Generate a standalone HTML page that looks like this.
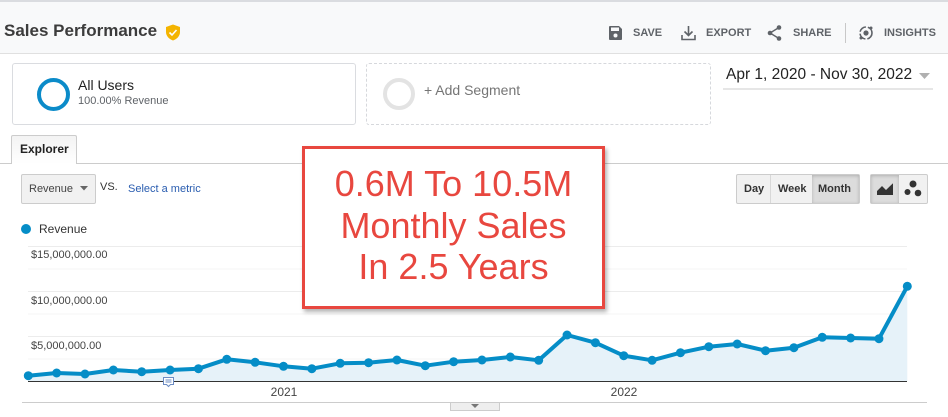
<!DOCTYPE html>
<html><head><meta charset="utf-8">
<style>
*{margin:0;padding:0;box-sizing:border-box}
html,body{width:948px;height:417px;overflow:hidden;background:#fff;font-family:"Liberation Sans",Arial,sans-serif;color:#333}
.a{position:absolute;white-space:nowrap}
</style></head><body>
<!-- header -->
<div class="a" style="left:0;top:0;width:948px;height:54px;background:#f8f9fa;border-top:2px solid #dadce0;border-bottom:1px solid #e0e0e0"></div>
<div class="a" style="left:4px;top:21px;font-size:17px;font-weight:bold;color:#3c3c3c;line-height:20px">Sales Performance</div>
<svg class="a" style="left:165px;top:24px" width="16" height="17" viewBox="0 0 16 17"><path d="M8 0.5 L15 3 V8 C15 12 12 15 8 16.5 C4 15 1 12 1 8 V3 Z" fill="#f4b400"/><path d="M4.5 8.5 L7 11 L11.5 6" stroke="#fff" stroke-width="1.6" fill="none"/></svg>

<!-- save -->
<svg class="a" style="left:609px;top:26px" width="13" height="14" viewBox="0 0 13 14"><path d="M0 1 Q0 0 1 0 H10 L13 3 V13 Q13 14 12 14 H1 Q0 14 0 13 Z" fill="#5f6368"/><rect x="2" y="1.5" width="8" height="3.5" fill="#f8f9fa"/><circle cx="6.5" cy="9.5" r="2" fill="#f8f9fa"/></svg>
<div class="a" style="left:633px;top:27px;font-size:11px;font-weight:bold;color:#5f6368">SAVE</div>
<svg class="a" style="left:681px;top:25px" width="15" height="16" viewBox="0 0 15 16"><path d="M7.5 1 V10 M3.5 6.5 L7.5 10.5 L11.5 6.5" stroke="#5f6368" stroke-width="1.6" fill="none"/><path d="M1 10 V14.5 H14 V10" stroke="#5f6368" stroke-width="1.6" fill="none"/></svg>
<div class="a" style="left:706px;top:27px;font-size:11px;font-weight:bold;color:#5f6368">EXPORT</div>
<svg class="a" style="left:767px;top:25px" width="15" height="16" viewBox="0 0 15 16"><circle cx="12" cy="2.5" r="2.3" fill="#5f6368"/><circle cx="3" cy="8" r="2.3" fill="#5f6368"/><circle cx="12" cy="13.5" r="2.3" fill="#5f6368"/><path d="M12 2.5 L3 8 L12 13.5" stroke="#5f6368" stroke-width="1.4" fill="none"/></svg>
<div class="a" style="left:793px;top:27px;font-size:11px;font-weight:bold;color:#5f6368">SHARE</div>
<div class="a" style="left:845px;top:23px;width:1px;height:20px;background:#c8c8c8"></div>
<svg class="a" style="left:858px;top:25px" width="16" height="16" viewBox="0 0 16 16"><circle cx="8" cy="8" r="6" stroke="#5f6368" stroke-width="1.6" fill="none" stroke-dasharray="8 2"/><circle cx="8" cy="8" r="2.6" fill="#5f6368"/><circle cx="13" cy="3" r="1.5" fill="#5f6368"/><circle cx="3" cy="13" r="1.5" fill="#5f6368"/></svg>
<div class="a" style="left:884px;top:27px;font-size:11px;font-weight:bold;color:#5f6368">INSIGHTS</div>

<!-- segments -->
<div class="a" style="left:12px;top:63px;width:344px;height:62px;border:1px solid #dadce0;border-radius:3px"></div>
<div class="a" style="left:37px;top:78px;width:33px;height:33px;border:4px solid #0b8bc9;border-radius:50%"></div>
<div class="a" style="left:78px;top:77px;font-size:14px;color:#222;line-height:16px">All Users</div>
<div class="a" style="left:78px;top:95px;font-size:11px;color:#5f6368;line-height:12px">100.00% Revenue</div>
<div class="a" style="left:366px;top:63px;width:345px;height:62px;border:1px dashed #d6d8dc;border-radius:3px"></div>
<div class="a" style="left:383px;top:78px;width:32px;height:32px;border:4px solid #e3e3e3;border-radius:50%"></div>
<div class="a" style="left:424px;top:82px;font-size:14px;color:#757575;line-height:16px">+ Add Segment</div>

<div class="a" style="left:726px;top:66px;font-size:15.5px;color:#222;line-height:18px">Apr 1, 2020 - Nov 30, 2022</div>
<svg class="a" style="left:919px;top:73px" width="12" height="7"><path d="M0 0 H11 L5.5 6 Z" fill="#b0b0b0"/></svg>
<div class="a" style="left:723px;top:88px;width:210px;height:2px;background:#e6e6e6"></div>

<!-- tab -->
<div class="a" style="left:0;top:163px;width:948px;height:1px;background:#ccc"></div>
<div class="a" style="left:11px;top:135px;width:66px;height:29px;border:1px solid #ccc;border-bottom:none;border-radius:2px 2px 0 0;background:linear-gradient(#f3f3f3,#fff)"></div>
<div class="a" style="left:20px;top:142px;font-size:12px;font-weight:bold;color:#222;line-height:14px">Explorer</div>

<!-- controls -->
<div class="a" style="left:21px;top:174px;width:75px;height:30px;border:1px solid #ccc;border-radius:2px;background:#f1f1f1"></div>
<div class="a" style="left:29px;top:183px;font-size:11px;color:#444;line-height:13px">Revenue</div>
<svg class="a" style="left:80px;top:186px" width="9" height="5"><path d="M0 0 H8 L4 4.5 Z" fill="#666"/></svg>
<div class="a" style="left:100px;top:181px;font-size:11px;color:#333;line-height:13px">VS.</div>
<div class="a" style="left:128px;top:183px;font-size:11px;color:#2a5db0;line-height:13px">Select a metric</div>

<div class="a" style="left:736px;top:174px;width:124px;height:30px;border:1px solid #ccc;border-radius:2px;background:#f1f1f1"></div>
<div class="a" style="left:770px;top:175px;width:1px;height:28px;background:#d8d8d8"></div>
<div class="a" style="left:812px;top:175px;width:47px;height:28px;background:#dcdcdc;box-shadow:inset 0 1px 3px rgba(0,0,0,.2)"></div>
<div class="a" style="left:744px;top:183px;font-size:11px;font-weight:bold;color:#333;line-height:13px">Day</div>
<div class="a" style="left:778px;top:183px;font-size:11px;font-weight:bold;color:#333;line-height:13px">Week</div>
<div class="a" style="left:818px;top:183px;font-size:11px;font-weight:bold;color:#333;line-height:13px">Month</div>

<div class="a" style="left:870px;top:174px;width:58px;height:30px;border:1px solid #ccc;border-radius:2px;background:#f1f1f1"></div>
<div class="a" style="left:871px;top:175px;width:28px;height:28px;background:#dcdcdc;box-shadow:inset 0 1px 3px rgba(0,0,0,.2)"></div>
<svg class="a" style="left:876px;top:182px" width="18" height="14" viewBox="0 0 18 14"><path d="M1 13 V9 L6 4 L10 8 L17 1 V13 Z" fill="#333"/><path d="M1 8 L6 3 L10 7 L17 0.5" stroke="#dcdcdc" stroke-width="1" fill="none"/></svg>
<svg class="a" style="left:903px;top:179px" width="20" height="20" viewBox="0 0 20 20"><circle cx="10" cy="5" r="3.5" fill="#333"/><circle cx="4.5" cy="13" r="3" fill="#333"/><circle cx="15" cy="14" r="3.3" fill="#333"/></svg>

<!-- legend -->
<div class="a" style="left:21px;top:224px;width:10px;height:10px;border-radius:50%;background:#058dc7"></div>
<div class="a" style="left:39px;top:222px;font-size:12px;color:#333;line-height:14px">Revenue</div>

<!-- chart -->
<svg class="a" style="left:0;top:0" width="948" height="417">
<g stroke="#ececec" stroke-width="1">
<line x1="28" y1="246.5" x2="907" y2="246.5"/>
<line x1="28" y1="269" x2="907" y2="269" stroke="#f4f4f4"/>
<line x1="28" y1="291.5" x2="907" y2="291.5"/>
<line x1="28" y1="314" x2="907" y2="314" stroke="#f4f4f4"/>
<line x1="28" y1="336.5" x2="907" y2="336.5"/>
<line x1="28" y1="359" x2="907" y2="359" stroke="#f4f4f4"/>
</g>
<g font-family="Liberation Sans, Arial, sans-serif" font-size="11" fill="#444">
<text x="31" y="258">$15,000,000.00</text>
<text x="31" y="304">$10,000,000.00</text>
<text x="31" y="349">$5,000,000.00</text>
</g>
<path d="M28.3,375.7 L56.66,373 L85.01,374 L113.37,370 L141.72,371.7 L170.08,370 L198.43,368.7 L226.79,359.3 L255.14,362.3 L283.5,366.3 L311.85,368.7 L340.21,363.3 L368.56,362.7 L396.92,360 L425.27,365.7 L453.63,361.7 L481.98,360 L510.34,357 L538.69,360.3 L567.05,335 L595.4,342.7 L623.76,355.7 L652.11,360.3 L680.47,352.7 L708.82,346.7 L737.18,344 L765.53,350.7 L793.89,347.7 L822.24,337.3 L850.6,338 L878.95,338.7 L907.3,286.3 L907.3,381 L28.3,381 Z" fill="#e6f2f9"/>
<polyline fill="none" stroke="#058dc7" stroke-width="4" stroke-linejoin="round" points="28.3,375.7 56.66,373 85.01,374 113.37,370 141.72,371.7 170.08,370 198.43,368.7 226.79,359.3 255.14,362.3 283.5,366.3 311.85,368.7 340.21,363.3 368.56,362.7 396.92,360 425.27,365.7 453.63,361.7 481.98,360 510.34,357 538.69,360.3 567.05,335 595.4,342.7 623.76,355.7 652.11,360.3 680.47,352.7 708.82,346.7 737.18,344 765.53,350.7 793.89,347.7 822.24,337.3 850.6,338 878.95,338.7 907.3,286.3"/>
<g fill="#058dc7">
<circle cx="28.3" cy="375.7" r="4.5"/><circle cx="56.66" cy="373" r="4.5"/><circle cx="85.01" cy="374" r="4.5"/><circle cx="113.37" cy="370" r="4.5"/><circle cx="141.72" cy="371.7" r="4.5"/><circle cx="170.08" cy="370" r="4.5"/><circle cx="198.43" cy="368.7" r="4.5"/><circle cx="226.79" cy="359.3" r="4.5"/><circle cx="255.14" cy="362.3" r="4.5"/><circle cx="283.5" cy="366.3" r="4.5"/><circle cx="311.85" cy="368.7" r="4.5"/><circle cx="340.21" cy="363.3" r="4.5"/><circle cx="368.56" cy="362.7" r="4.5"/><circle cx="396.92" cy="360" r="4.5"/><circle cx="425.27" cy="365.7" r="4.5"/><circle cx="453.63" cy="361.7" r="4.5"/><circle cx="481.98" cy="360" r="4.5"/><circle cx="510.34" cy="357" r="4.5"/><circle cx="538.69" cy="360.3" r="4.5"/><circle cx="567.05" cy="335" r="4.5"/><circle cx="595.4" cy="342.7" r="4.5"/><circle cx="623.76" cy="355.7" r="4.5"/><circle cx="652.11" cy="360.3" r="4.5"/><circle cx="680.47" cy="352.7" r="4.5"/><circle cx="708.82" cy="346.7" r="4.5"/><circle cx="737.18" cy="344" r="4.5"/><circle cx="765.53" cy="350.7" r="4.5"/><circle cx="793.89" cy="347.7" r="4.5"/><circle cx="822.24" cy="337.3" r="4.5"/><circle cx="850.6" cy="338" r="4.5"/><circle cx="878.95" cy="338.7" r="4.5"/><circle cx="907.3" cy="286.3" r="4.5"/>
</g>
<line x1="28" y1="381.5" x2="907" y2="381.5" stroke="#333" stroke-width="1"/>
<path d="M163.5,377.5 H173.5 V384.5 H170.5 L168.5,386.5 L166.5,384.5 H163.5 Z" fill="#fff" stroke="#6b8cc4" stroke-width="1"/>
<line x1="165.5" y1="380" x2="171.5" y2="380" stroke="#6b8cc4"/><line x1="165.5" y1="382" x2="171.5" y2="382" stroke="#6b8cc4"/>
<g font-family="Liberation Sans, Arial, sans-serif" font-size="12" fill="#444" text-anchor="middle">
<text x="284" y="396">2021</text>
<text x="624" y="396">2022</text>
</g>
<line x1="22" y1="402.5" x2="927" y2="402.5" stroke="#ccc" stroke-width="1"/>
<rect x="450.5" y="402.5" width="49" height="8" fill="#eee" stroke="#ccc"/>
<path d="M471,404 H479 L475,408 Z" fill="#777"/>
</svg>

<!-- annotation box -->
<div class="a" style="left:302px;top:146px;width:303px;height:163px;border:3px solid #e8473f;background:#fff;box-shadow:2px 3px 4px rgba(0,0,0,.3);text-align:center;color:#e8473f;font-size:36px;line-height:41.5px;padding-top:14px">0.6M To 10.5M<br>Monthly Sales<br>In 2.5 Years</div>
</body></html>
